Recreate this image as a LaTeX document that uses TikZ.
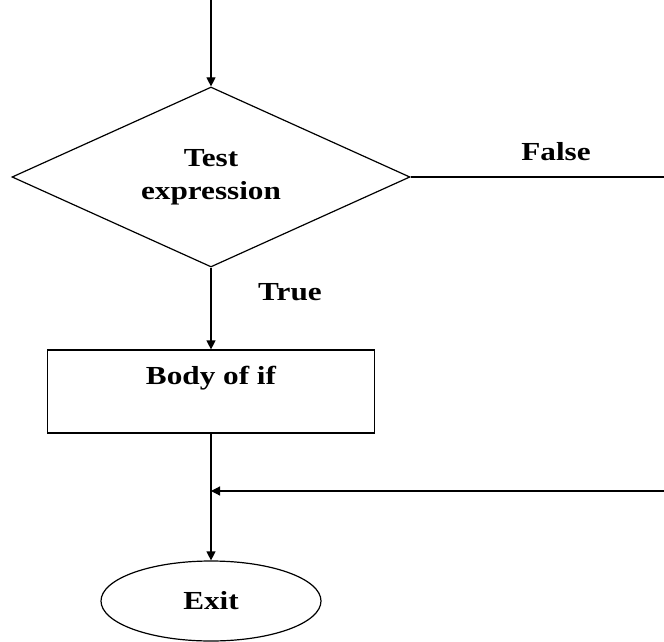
\documentclass[tikz,border=0pt]{standalone}
\usepackage{fontspec}
\setmainfont{Liberation Serif}[FakeStretch=1.2]
\usetikzlibrary{shapes.geometric,arrows.meta}
\tikzset{
  conn/.style={line width=1.2pt, black},
  arr/.style={conn, -{Triangle[length=9pt,width=9pt]}},
  txt/.style={font=\fontsize{26}{30}\selectfont\bfseries, inner sep=0pt},
  dia/.style={diamond, draw, line width=1.2pt, aspect=2.2, minimum width=398pt, minimum height=180pt, inner sep=0pt, align=center, font=\fontsize{26}{33}\selectfont\bfseries},
  box/.style={rectangle, draw, line width=1.2pt, minimum width=327pt, minimum height=83pt, inner sep=0pt},
  term/.style={ellipse, draw, line width=1.2pt, minimum width=220pt, minimum height=80pt, inner sep=0pt, font=\fontsize{26}{30}\selectfont\bfseries},
}
\begin{document}
\begin{tikzpicture}[x=1pt,y=-1pt]
\useasboundingbox (0,0) rectangle (664,642);
\coordinate (start) at (211,0);
\node[dia] (test) at (211,177) {Test\\expression};
\coordinate (fr) at (664,177);
\node[txt] (false) at (556,152) {False};
\node[txt] (true) at (290,292) {True};
\node[box, label={[txt, yshift=13pt]center:Body of if}] (body) at (211,391.5) {};
\coordinate (j) at (211,491);
\coordinate (mr) at (664,491);
\node[term] (exit) at (211,601) {Exit};
\draw[arr] (start) -- (test.north);
\draw[conn] (test.east) -- (fr);
\draw[arr] (test.south) -- (body.north);
\draw[conn] (body.south) -- (j);
\draw[arr] (j) -- (exit.north);
\draw[arr] (mr) -- (j);
\end{tikzpicture}
\end{document}
